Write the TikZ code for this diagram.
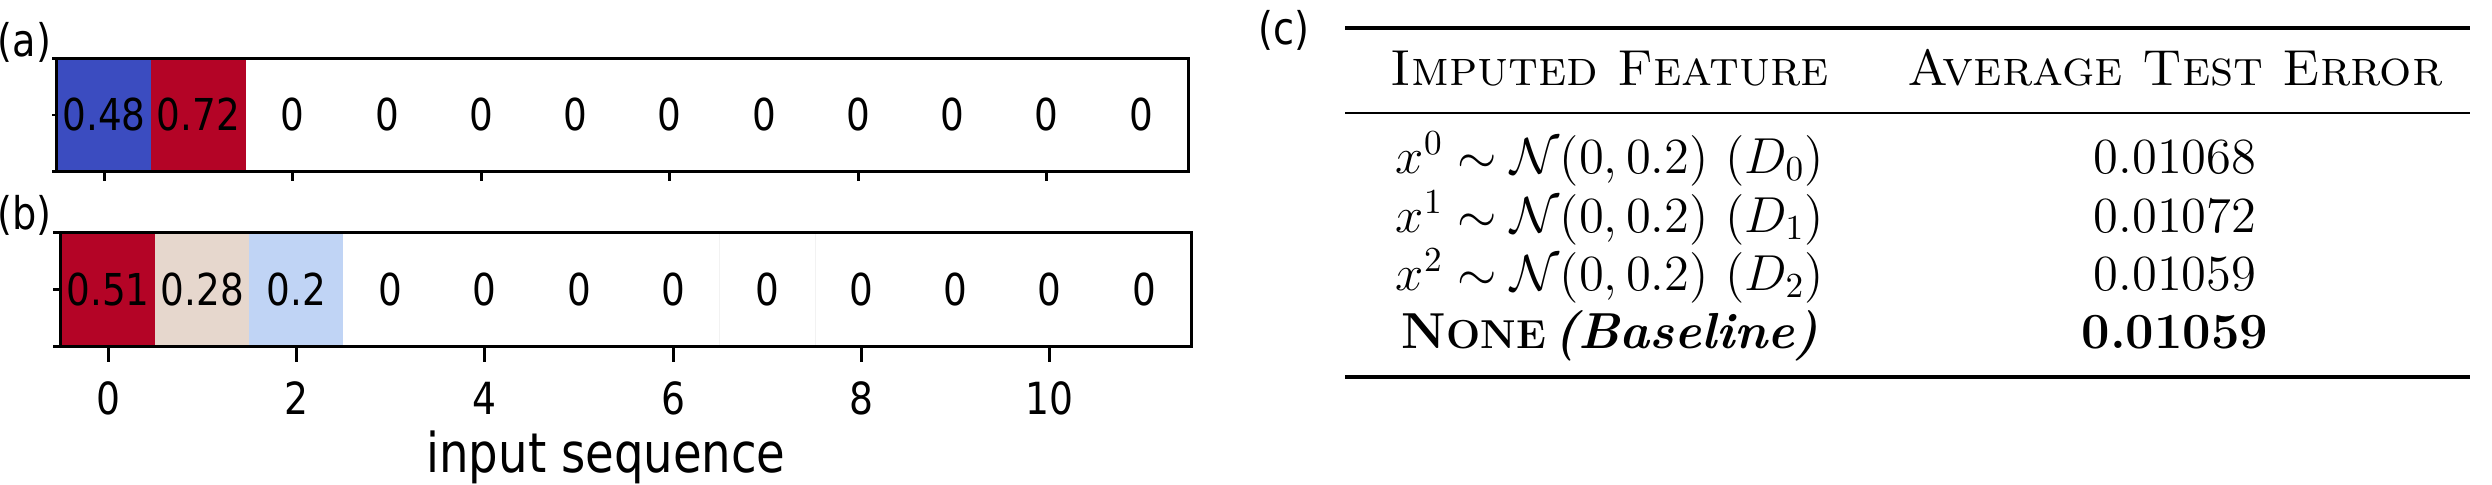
\documentclass[tikz,border=0pt]{standalone}
\usepackage{fontspec}
\newfontfamily\plotfont[FakeStretch=0.85]{DejaVu Sans}
\definecolor{hmBlue}{RGB}{59,76,192}
\definecolor{hmRed}{RGB}{180,4,38}
\definecolor{hmBeige}{RGB}{230,215,205}
\definecolor{hmSky}{RGB}{192,212,245}
\tikzset{
  hmcell/.style={inner sep=0pt, minimum width=9.425mm, minimum height=11.25mm,
    font=\plotfont\fontsize{12.5}{14}\selectfont},
  spine/.style={line width=0.85pt},
  ticklab/.style={inner sep=0pt, font=\plotfont\fontsize{12.6}{14}\selectfont},
  panellab/.style={inner sep=0pt, anchor=west, font=\plotfont\fontsize{12.8}{14}\selectfont},
  tabtxt/.style={inner sep=0pt, anchor=base, font=\fontsize{14.4}{17}\selectfont},
  tabrule/.style={line width=0.95pt},
}
\begin{document}
\begin{tikzpicture}[x=0.1mm,y=0.1mm]
  \useasboundingbox (0,0) rectangle (2492,484);
  % (a) heatmap
  \foreach \v/\c [count=\i from 0] in {0.48/hmBlue,0.72/hmRed,0/white,0/white,0/white,0/white,
      0/white,0/white,0/white,0/white,0/white,0/white}
    \node[hmcell, fill=\c] (a\i) at ({57+(\i+0.5)*94.25},369) {\v};
  \draw[spine] (a0.south west) rectangle (a11.north east);
  \foreach \k in {0,2,...,10}
    \draw[spine] (a\k.south) -- ++(0,-9);
  \foreach \p in {north west,west,south west}
    \draw[spine] (a0.\p) -- ++(-4,0);
  \node[panellab] (pa) at (-3,442) {(a)};
  % (b) heatmap
  \foreach \v/\c [count=\i from 0] in {0.51/hmRed,0.28/hmBeige,0.2/hmSky,0/white,0/white,0/white,
      0/white,0/white,0/white,0/white,0/white,0/white}
    \node[hmcell, fill=\c] (b\i) at ({61+(\i+0.5)*94.17},194.5) {\v};
  \draw[black!5, line width=0.3pt] (b7.south west) rectangle (b7.north east);
  \draw[spine] (b0.south west) rectangle (b11.north east);
  \foreach \k in {0,2,...,10}{
    \draw[spine] (b\k.south) -- ++(0,-16);
    \node[ticklab] (x\k) at ({61+(\k+0.5)*94.17},86) {\k};
  }
  \foreach \p in {north west,west,south west}
    \draw[spine] (b0.\p) -- ++(-7,0);
  \node[panellab] (pb) at (-3,269) {(b)};
  \node[inner sep=0pt, anchor=base, font=\plotfont\fontsize{15.6}{18}\selectfont] (xlab) at (606,12) {input sequence};
  % (c) table
  \node[panellab] (pc) at (1258,454) {(c)};
  \draw[tabrule] (1345,456) -- (2470,456);
  \draw[line width=0.6pt] (1345,371) -- (2470,371);
  \draw[tabrule] (1345,107) -- (2470,107);
  \node[tabtxt] (h1) at (1610,399) {\textsc{Imputed Feature}};
  \node[tabtxt] (h2) at (2175,399) {\textsc{Average Test Error}};
  \foreach \n/\e/\y in {0/0.01068/311,1/0.01072/252,2/0.01059/194}{
    \node[tabtxt] (f\n) at (1610,\y) {$x^{\n}\sim\mathcal{N}(0,0.2)\ (D_{\n})$};
    \node[tabtxt] (e\n) at (2175,\y) {\e};
  }
  \node[tabtxt] (f3) at (1610,136) {\textbf{N{\fontsize{11.5}{13}\selectfont ONE}\,\textit{(Baseline)}}};
  \node[tabtxt] (e3) at (2175,136) {\textbf{0.01059}};
\end{tikzpicture}
\end{document}
